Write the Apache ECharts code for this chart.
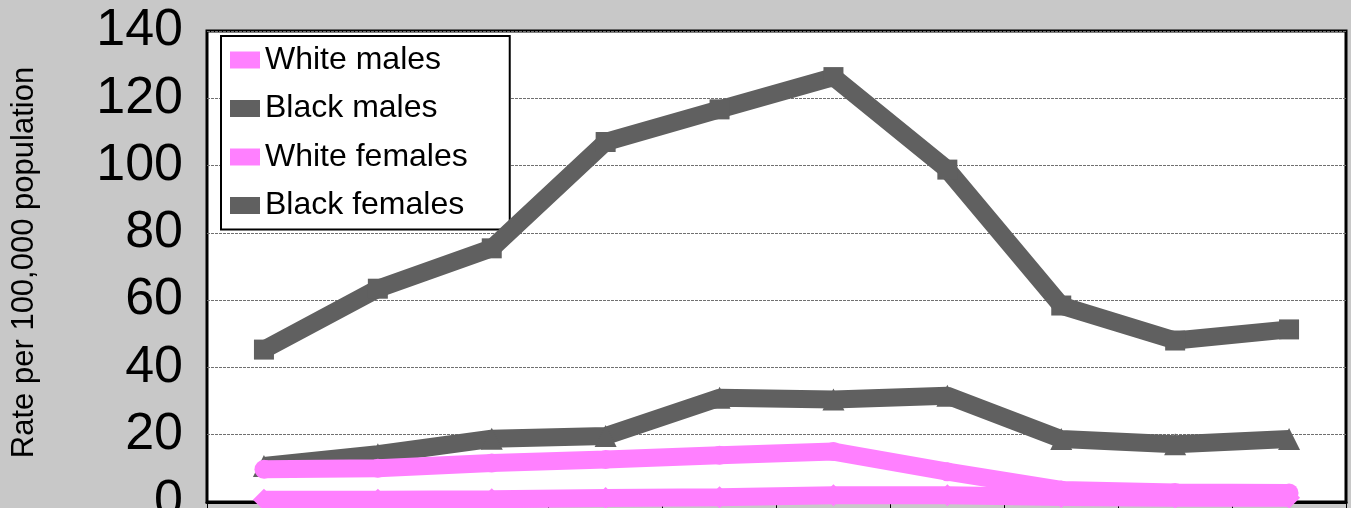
<!DOCTYPE html>
<html>
<head>
<meta charset="utf-8">
<script src="https://cdn.jsdelivr.net/npm/echarts@6/dist/echarts.min.js"></script>
<style>
html,body{margin:0;padding:0;background:#c8c8c8;}
#c{width:1351px;height:508px;}
</style>
</head>
<body>
<div id="c"></div>
<script>
const categories = ['1','2','3','4','5','6','7','8','9','10'];
const whiteMales   = [9.7, 10.0, 11.6, 12.6, 13.9, 15.0, 9.0, 3.6, 2.8, 2.7];
const blackMales   = [45.3, 63.4, 75.4, 107.0, 116.7, 126.3, 98.8, 58.4, 48.0, 51.3];
const whiteFemales = [0.7, 0.7, 0.8, 1.2, 1.4, 2.0, 2.0, 1.5, 1.3, 1.3];
const blackFemales = [10.7, 14.2, 18.8, 19.6, 31.0, 30.5, 31.6, 18.7, 17.2, 18.7];
const yTicks = [0, 20, 40, 60, 80, 100, 120, 140];

const PINK = '#ff80ff', DARK = '#606060';
const chart = echarts.init(document.getElementById('c'), null, {renderer:'canvas'});
chart.setOption({
  backgroundColor: '#c8c8c8',
  animation: false,
  textStyle: {fontFamily: 'Liberation Sans, Arial, sans-serif'},
  grid: {left: 207, top: 31, width: 1139, height: 471, show: true, outerBoundsMode: 'none', containLabel: false,
         backgroundColor: '#ffffff', borderColor: '#000', borderWidth: 3},
  legend: {
    orient: 'vertical', left: 221, top: 36,
    backgroundColor: '#fff', borderColor: '#000', borderWidth: 2,
    padding: [8, 42, 8, 9], itemGap: 16.5, itemWidth: 30, itemHeight: 17,
    icon: 'rect',
    textStyle: {fontSize: 32, color: '#000', fontFamily: 'Liberation Sans, Arial, sans-serif'},
    data: ['White males', 'Black males', 'White females', 'Black females']
  },
  xAxis: {
    type: 'category', data: categories, boundaryGap: true,
    axisLine: {lineStyle: {color: '#000', width: 3}},
    axisTick: {show: true, length: 6, lineStyle: {color: '#000', width: 1}},
    axisLabel: {show: false}
  },
  yAxis: {
    type: 'value', min: yTicks[0], max: yTicks[yTicks.length-1], interval: 20,
    name: 'Rate per 100,000 population', nameLocation: 'middle', nameRotate: 90, nameGap: 167,
    nameTextStyle: {fontSize: 31, color: '#000', padding: [0, 0, 0, 8]},
    axisLine: {show: false}, axisTick: {show: false},
    axisLabel: {fontSize: 52, color: '#000', margin: 24},
    splitLine: {lineStyle: {color: '#707070', type: [3, 1], width: 1}}
  },
  series: [
    {name: 'Black females', type: 'line', data: blackFemales, z: 2, clip: false,
     symbol: 'triangle', symbolSize: 22, color: DARK,
     lineStyle: {width: 18, color: DARK}, itemStyle: {color: DARK}},
    {name: 'White females', type: 'line', data: whiteFemales, z: 3, clip: false,
     symbol: 'diamond', symbolSize: 22, color: PINK,
     lineStyle: {width: 18, color: PINK}, itemStyle: {color: PINK}},
    {name: 'White males', type: 'line', data: whiteMales, z: 4, clip: false,
     symbol: 'circle', symbolSize: 19, color: PINK,
     lineStyle: {width: 18, color: PINK}, itemStyle: {color: PINK}},
    {name: 'Black males', type: 'line', data: blackMales, z: 5, clip: false,
     symbol: 'rect', symbolSize: 20, color: DARK,
     lineStyle: {width: 18, color: DARK}, itemStyle: {color: DARK}}
  ]
});
</script>
</body>
</html>
